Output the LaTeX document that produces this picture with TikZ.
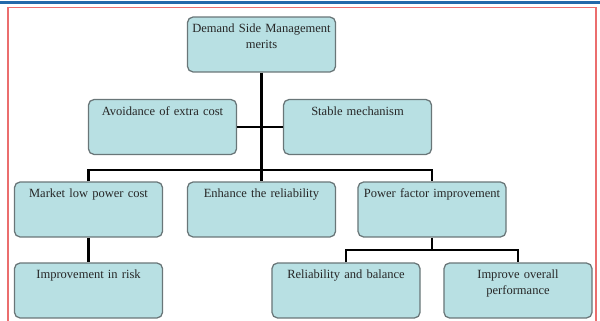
\documentclass[tikz,border=0pt]{standalone}
\usepackage{fontspec}
\setmainfont{Liberation Serif}
\usetikzlibrary{calc}
\definecolor{boxfill}{RGB}{184,224,227}
\definecolor{boxline}{RGB}{105,118,120}
\definecolor{topblue}{RGB}{35,105,170}
\definecolor{framered}{RGB}{235,110,110}

\begin{document}
\begin{tikzpicture}
  [x=0.025cm,y=-0.025cm,
   meritN/.style={draw=boxline,fill=boxfill,rounded corners=4pt,line width=0.9pt,
     minimum width=105.3pt,minimum height=39.1pt,inner sep=2.5pt,
     text width=100pt,align=center,text height=8.5pt,text depth=25.5pt,
     font=\fontsize{8.9}{11.4}\selectfont,text=black!85},
   linkE/.style={line width=1.8pt}]

  \useasboundingbox (0,0) rectangle (600,321);

  % page frame
  \draw[topblue,line width=2.2pt] (0,2.5) -- (600,2.5);
  \draw[framered,line width=0.8pt] (8,321) -- (8,7.5) -- (596,7.5) -- (596,321);

  \node[meritN] (top)     at (261.5,44.5)  {Demand Side Management\\merits};
  \node[meritN] (avoid)   at (162.5,127)   {Avoidance of extra cost};
  \node[meritN] (stable)  at (357.5,127)   {Stable mechanism};
  \node[meritN] (market)  at  (88.5,209.5) {Market low power cost};
  \node[meritN] (enh)     at (261.5,209.5) {Enhance the reliability};
  \node[meritN] (power)   at (432,209.5)   {Power factor improvement};
  \node[meritN] (risk)    at  (88.5,290.5) {Improvement in risk};
  \node[meritN] (reliab)  at (346,290.5)   {Reliability and balance};
  \node[meritN] (overall) at (518,290.5)   {Improve overall\\performance};

  \coordinate (j1) at (261.5,170);
  \coordinate (j2) at (432,250);

  \draw [linkE] (top) -- (enh);
  \draw [linkE] (avoid) -- (stable);
  \draw [linkE] (market) |- (j1) -| (power);
  \draw [linkE] (market) -- (risk);

  \draw [linkE] (power) -- (j2);
  \draw [linkE] (reliab) |- (j2) -| (overall);
\end{tikzpicture}
\end{document}
